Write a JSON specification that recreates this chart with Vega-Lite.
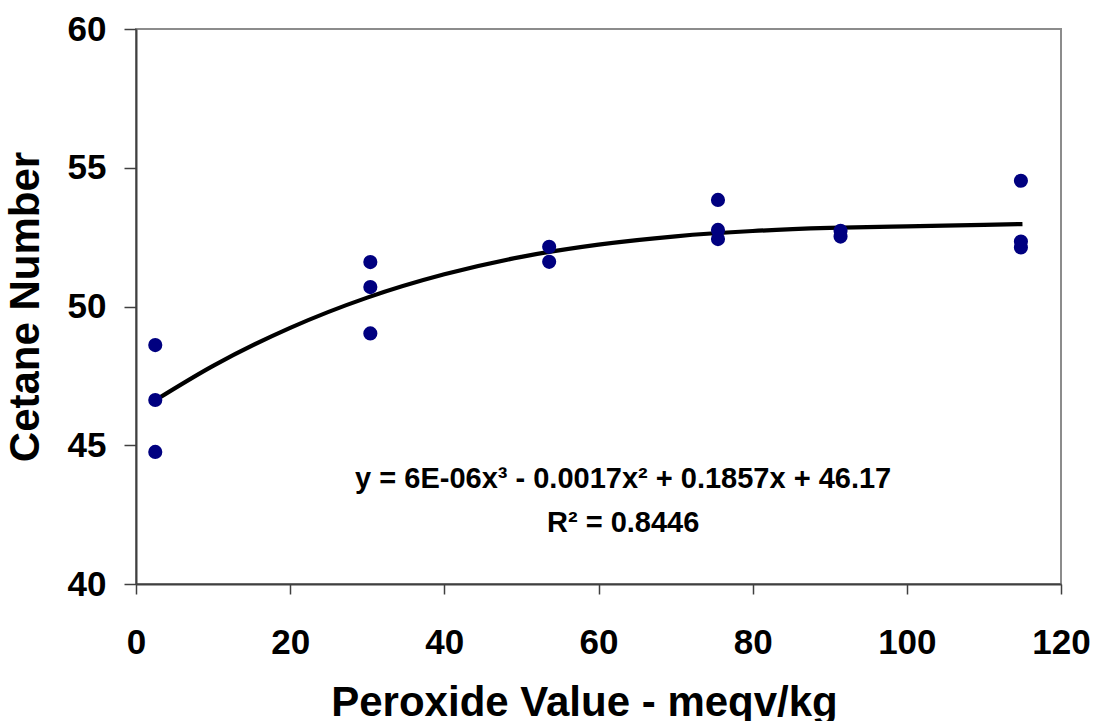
{
  "$schema": "https://vega.github.io/schema/vega-lite/v6.json",
  "width": 925,
  "height": 555,
  "autosize": {"type": "none"},
  "padding": {"left": 136, "top": 29, "right": 35, "bottom": 137},
  "background": "white",
  "config": {
    "font": "Liberation Sans",
    "view": {"stroke": "#8c8c8c", "strokeWidth": 2},
    "axis": {
      "grid": false,
      "domainColor": "#404040",
      "domainWidth": 2,
      "tickColor": "#404040",
      "tickWidth": 1.5,
      "labelFont": "Liberation Sans",
      "labelFontWeight": "bold",
      "labelFontSize": 35,
      "labelColor": "black",
      "titleFont": "Liberation Sans",
      "titleFontWeight": "bold",
      "titleFontSize": 42,
      "titleColor": "black"
    }
  },
  "datasets": {
    "points": [
      {"pv": 2.5, "cn": 48.61},
      {"pv": 2.5, "cn": 46.63},
      {"pv": 2.5, "cn": 44.76},
      {"pv": 30.4, "cn": 51.6},
      {"pv": 30.4, "cn": 50.7},
      {"pv": 30.4, "cn": 49.03},
      {"pv": 53.6, "cn": 52.15},
      {"pv": 53.6, "cn": 51.61},
      {"pv": 75.5, "cn": 53.84},
      {"pv": 75.5, "cn": 52.76},
      {"pv": 75.5, "cn": 52.43},
      {"pv": 91.4, "cn": 52.73},
      {"pv": 91.4, "cn": 52.52},
      {"pv": 114.8, "cn": 54.53},
      {"pv": 114.8, "cn": 52.34},
      {"pv": 114.8, "cn": 52.13}
    ],
    "curve": [
      {"pv": 2.5, "cn": 46.62},
      {"pv": 10, "cn": 47.86},
      {"pv": 20, "cn": 49.23},
      {"pv": 30, "cn": 50.32},
      {"pv": 40, "cn": 51.16},
      {"pv": 50, "cn": 51.79},
      {"pv": 60, "cn": 52.23},
      {"pv": 70, "cn": 52.53},
      {"pv": 80, "cn": 52.72},
      {"pv": 90, "cn": 52.83},
      {"pv": 100, "cn": 52.89},
      {"pv": 110, "cn": 52.94},
      {"pv": 115, "cn": 52.97}
    ]
  },
  "layer": [
    {
      "data": {"name": "curve"},
      "mark": {"type": "line", "color": "black", "strokeWidth": 4.2, "interpolate": "monotone"},
      "encoding": {
        "x": {
          "field": "pv", "type": "quantitative",
          "scale": {"domain": [0, 120], "nice": false, "zero": false},
          "axis": {
            "title": "Peroxide Value - meqv/kg",
            "values": [0, 20, 40, 60, 80, 100, 120],
            "tickSize": 10,
            "labelPadding": 31,
            "titlePadding": 22,
            "titleX": 448,
            "titleAlign": "center",
            "labelFlush": false
          }
        },
        "y": {
          "field": "cn", "type": "quantitative",
          "scale": {"domain": [40, 60], "nice": false, "zero": false},
          "axis": {
            "title": "Cetane Number",
            "values": [40, 45, 50, 55, 60],
            "tickSize": 12,
            "labelPadding": 18,
            "titlePadding": 20,
            "labelFlush": false
          }
        }
      }
    },
    {
      "data": {"name": "points"},
      "mark": {"type": "point", "filled": true, "shape": "circle", "size": 200, "color": "#000080", "opacity": 1},
      "encoding": {
        "x": {"field": "pv", "type": "quantitative"},
        "y": {"field": "cn", "type": "quantitative"}
      }
    },
    {
      "data": {"values": [{"eq": "y = 6E-06x³ - 0.0017x² + 0.1857x + 46.17"}]},
      "mark": {"type": "text", "font": "Liberation Sans", "fontWeight": "bold", "fontSize": 29, "align": "center", "baseline": "alphabetic", "color": "black"},
      "encoding": {
        "x": {"datum": 63.2, "type": "quantitative"},
        "y": {"datum": 43.46, "type": "quantitative"},
        "text": {"field": "eq", "type": "nominal"}
      }
    },
    {
      "data": {"values": [{"eq": "R² = 0.8446"}]},
      "mark": {"type": "text", "font": "Liberation Sans", "fontWeight": "bold", "fontSize": 29, "align": "center", "baseline": "alphabetic", "color": "black"},
      "encoding": {
        "x": {"datum": 63.2, "type": "quantitative"},
        "y": {"datum": 41.87, "type": "quantitative"},
        "text": {"field": "eq", "type": "nominal"}
      }
    }
  ]
}
